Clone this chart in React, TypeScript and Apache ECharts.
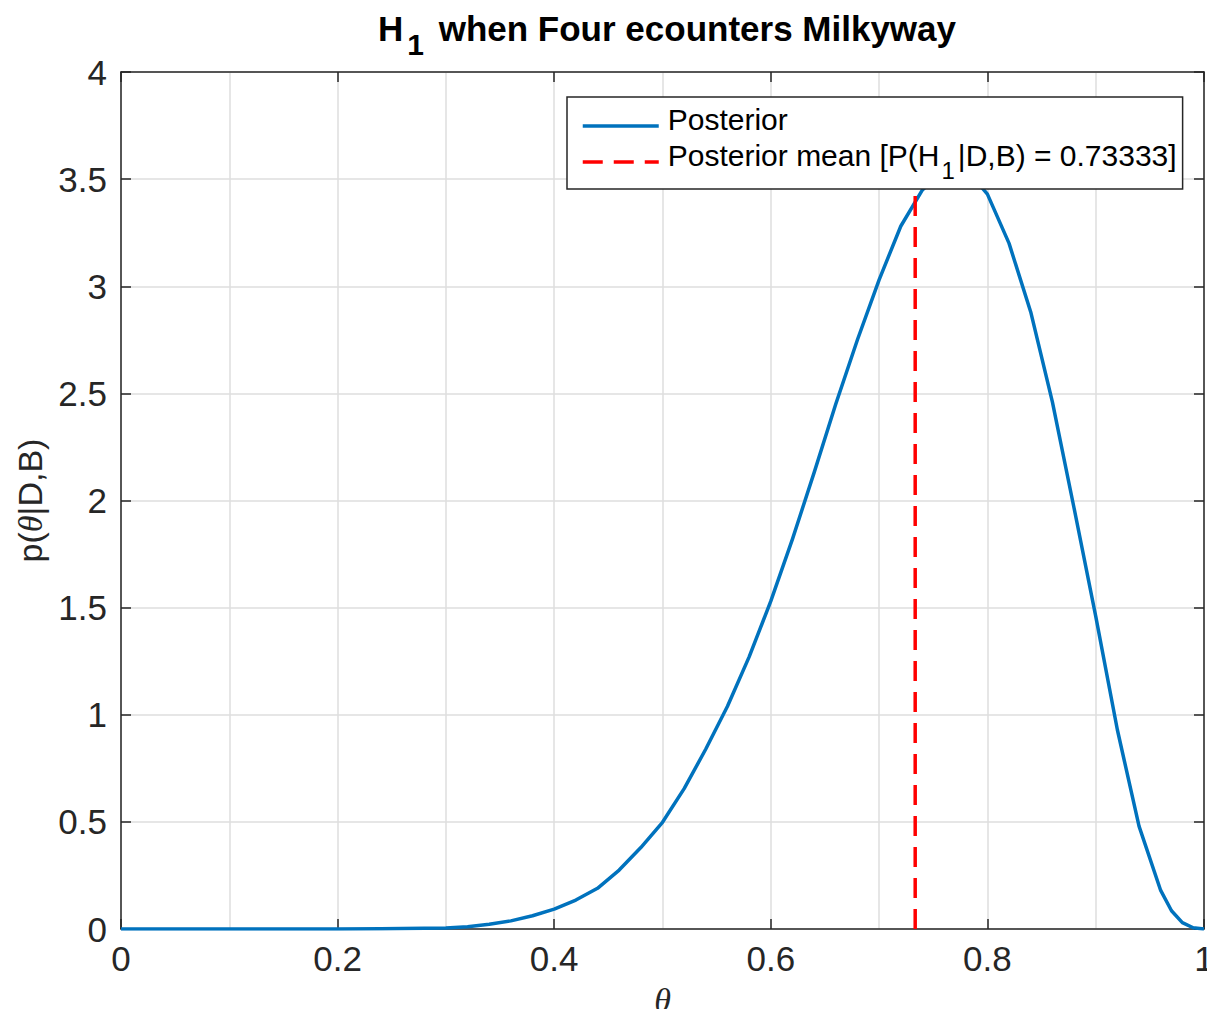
import React, { useEffect, useRef } from 'react';
import * as echarts from 'echarts';

// theta grid (x) and posterior density p(theta|D,B)
const thetaValues = [
  0, 0.1, 0.2, 0.24, 0.28, 0.3, 0.32, 0.34, 0.36, 0.38, 0.4, 0.42, 0.44, 0.46, 0.48,
  0.5, 0.52, 0.54, 0.56, 0.58, 0.6, 0.62, 0.64, 0.66, 0.68, 0.7, 0.72, 0.74, 0.76,
  0.78, 0.8, 0.82, 0.84, 0.86, 0.88, 0.9, 0.92, 0.94, 0.96, 0.97, 0.98, 0.99, 1.0,
];
const posteriorDensity = [
  0, 0, 0.0005, 0.001, 0.003, 0.005, 0.011, 0.022, 0.038, 0.062, 0.093, 0.135, 0.19, 0.275, 0.38,
  0.498, 0.655, 0.84, 1.04, 1.27, 1.53, 1.82, 2.13, 2.45, 2.75, 3.03, 3.28, 3.45, 3.54,
  3.55, 3.43, 3.2, 2.88, 2.46, 1.965, 1.46, 0.93, 0.48, 0.18, 0.085, 0.03, 0.006, 0,
];
const posteriorMean = 0.73333;

const xTickStep = 0.2;
const yTickStep = 0.5;
const xRange = [0, 1];
const yRange = [0, 4];

const seriesNames = ['Posterior', 'Posterior mean'];
const titleText = '{h|H}{s|1}{h| when Four ecounters Milkyway}';
const posteriorLegendText = '{m|Posterior}';
const meanLegendText = '{m|Posterior mean [P(H}{s|1}{m||D,B) = 0.73333]}';
const yAxisName = 'p({t|θ}|D,B)';
const xAxisName = 'θ';

export default function App() {
  const ref = useRef<HTMLDivElement>(null);

  useEffect(() => {
    if (!ref.current) return;
    const chart = echarts.init(ref.current, null, { renderer: 'svg' });
    const font = '"Liberation Sans", Helvetica, Arial, sans-serif';
    const serif = '"Liberation Serif", "Times New Roman", serif';
    const ink = '#262626';
    const gridColor = '#dedede';
    const fmt = (v: number) => String(Math.round(v * 10) / 10);

    const axisLine = { show: true, onZero: false, lineStyle: { color: ink, width: 1.5 } };
    const axisTick = { show: true, inside: true, length: 10, lineStyle: { color: ink, width: 1.5 } };
    const split = { show: true, lineStyle: { color: gridColor, width: 1.5 } };

    // vertical mean marker spans from 0 up to the posterior's peak
    const peakDensity = Math.max(...posteriorDensity);
    const meanLine = [
      [posteriorMean, 0],
      [posteriorMean, peakDensity],
    ];

    const option: any = {
      animation: false,
      backgroundColor: '#ffffff',
      title: {
        text: titleText,
        left: 662,
        top: 6,
        textAlign: 'center',
        textStyle: {
          rich: {
            h: { fontFamily: font, fontWeight: 'bold', fontSize: 35, color: '#000', padding: [0, 0, 16, 0] },
            s: { fontFamily: font, fontWeight: 'bold', fontSize: 30, color: '#000', padding: [16, 5, 0, 4] },
          },
        },
      },
      grid: { left: 121, right: 3, top: 72, bottom: 80, containLabel: false, outerBoundsMode: 'none' },
      xAxis: [
        {
          type: 'value',
          position: 'bottom',
          min: xRange[0],
          max: xRange[1],
          interval: xTickStep,
          axisLine,
          axisTick,
          axisLabel: { fontSize: 35, color: ink, fontFamily: font, margin: 12, formatter: fmt },
          splitLine: split,
          minorTick: { show: false, splitNumber: 2 },
          minorSplitLine: split,
          name: xAxisName,
          nameLocation: 'middle',
          nameGap: 54,
          nameTextStyle: { fontSize: 34, fontFamily: serif, fontStyle: 'italic', color: ink },
        },
        {
          type: 'value',
          position: 'top',
          min: xRange[0],
          max: xRange[1],
          interval: xTickStep,
          axisLine,
          axisTick,
          axisLabel: { show: false },
          splitLine: { show: false },
        },
      ],
      yAxis: [
        {
          type: 'value',
          position: 'left',
          min: yRange[0],
          max: yRange[1],
          interval: yTickStep,
          axisLine,
          axisTick,
          axisLabel: { fontSize: 35, color: ink, fontFamily: font, margin: 14, formatter: fmt },
          splitLine: split,
          name: yAxisName,
          nameLocation: 'middle',
          nameGap: 74,
          nameTextStyle: {
            fontSize: 34,
            fontFamily: font,
            color: ink,
            rich: {
              t: { fontSize: 34, fontFamily: serif, fontStyle: 'italic', color: ink },
            },
          },
        },
        {
          type: 'value',
          position: 'right',
          min: yRange[0],
          max: yRange[1],
          interval: yTickStep,
          axisLine,
          axisTick,
          axisLabel: { show: false },
          splitLine: { show: false },
        },
      ],
      legend: {
        show: true,
        z: 50,
        orient: 'vertical',
        left: 567,
        top: 97,
        itemWidth: 76,
        itemHeight: 14,
        itemGap: 6,
        padding: [7, 6, 7, 14],
        backgroundColor: '#ffffff',
        borderColor: ink,
        borderWidth: 1.5,
        borderRadius: 0,
        itemStyle: { color: 'rgba(0,0,0,0)', borderWidth: 0, opacity: 0 },
        lineStyle: { width: 3.5 },
        textStyle: {
          fontSize: 30,
          fontFamily: font,
          color: '#000',
          padding: [0, 0, 0, 4],
          rich: {
            m: { fontSize: 30, fontFamily: font, color: '#000', padding: [0, 0, 14, 0] },
            s: { fontSize: 24, fontFamily: font, color: '#000', padding: [16, 3, 0, 2] },
          },
        },
        formatter: (name: string) => (name === seriesNames[0] ? posteriorLegendText : meanLegendText),
        data: seriesNames,
      },
      series: [
        {
          name: seriesNames[0],
          type: 'line',
          xAxisIndex: 0,
          yAxisIndex: 0,
          data: thetaValues.map((x, i) => [x, posteriorDensity[i]]),
          symbol: 'none',
          showSymbol: false,
          lineStyle: { color: '#0072BD', width: 3.5, join: 'round' },
          itemStyle: { color: '#0072BD' },
          z: 2,
        },
        {
          name: seriesNames[1],
          type: 'line',
          xAxisIndex: 0,
          yAxisIndex: 0,
          data: meanLine,
          symbol: 'none',
          showSymbol: false,
          lineStyle: { color: '#FF0000', width: 3.5, type: [20, 11] },
          itemStyle: { color: '#FF0000' },
          z: 2,
        },
      ],
    };

    chart.setOption(option);
    return () => chart.dispose();
  }, []);

  return (
    <div
      ref={ref}
      style={{ position: 'absolute', left: 0, top: 0, width: 1207, height: 1009, background: '#fff' }}
    />
  );
}
